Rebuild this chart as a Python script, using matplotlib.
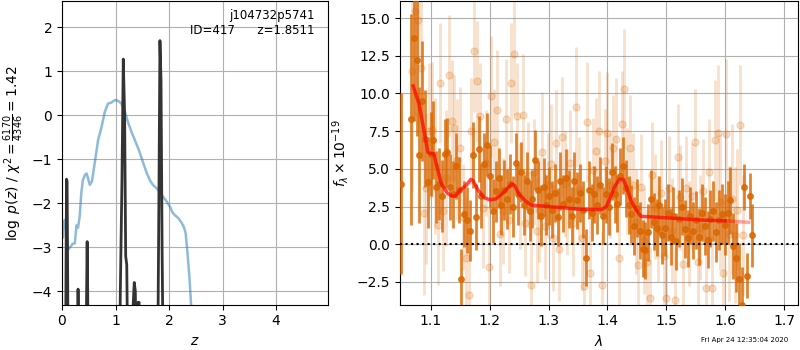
import numpy as np
import matplotlib
matplotlib.use("Agg")
import matplotlib.pyplot as plt

# ---------------- left panel: redshift PDF ----------------
z_chi = [0.02, 0.03, 0.05, 0.08, 0.11, 0.15, 0.20, 0.24, 0.27, 0.30, 0.33, 0.36, 0.39,
         0.43, 0.46, 0.49, 0.52, 0.56, 0.61, 0.675, 0.74, 0.80, 0.86, 0.92, 0.99,
         1.05, 1.11, 1.17, 1.24, 1.30, 1.36, 1.44, 1.52, 1.58, 1.64, 1.70, 1.77,
         1.83, 1.89, 1.95, 2.02, 2.06, 2.11, 2.17, 2.24, 2.28, 2.31, 2.34, 2.38, 2.41, 2.43]
logchi = [-2.77, -2.55, -2.38, -2.6, -3.06, -3.0, -2.92, -2.91, -2.5, -2.55, -2.3, -1.77, -1.47,
          -1.35, -1.32, -1.45, -1.58, -1.5, -1.09, -0.56, -0.26, 0.08, 0.27, 0.29, 0.35,
          0.33, 0.27, 0.1, -0.18, -0.38, -0.56, -0.8, -1.09, -1.3, -1.47, -1.58, -1.66,
          -1.75, -1.85, -1.95, -2.08, -2.2, -2.27, -2.33, -2.45, -2.55, -2.68, -3.06, -3.67, -4.27, -4.6]

z_pz = [0.06, 0.075, 0.085, 0.095, 0.105, 0.12, 0.27, 0.29, 0.30, 0.31, 0.33,
        0.44, 0.46, 0.47, 0.48, 0.50, 1.06, 1.09, 1.12, 1.145, 1.17, 1.19, 1.21, 1.24,
        1.30, 1.33, 1.35, 1.37, 1.40, 1.42, 1.44, 1.46, 1.78, 1.81, 1.83, 1.85, 1.87, 1.90]
logpz = [-7, -3.5, -1.45, -1.5, -3.5, -7, -7, -4.6, -3.95, -4.5, -7,
         -7, -4.0, -2.87, -4.0, -7, -7, -4.0, -1.5, 1.28, 0.0, -3.2, -3.4, -7,
         -7, -4.3, -3.8, -4.0, -7, -4.25, -4.25, -7, -7, -2.0, 1.7, 0.8, -3.0, -7]

# ---------------- right panel: spectrum ----------------
lam_dark = [1.0485,
    1.066, 1.071, 1.076, 1.080, 1.085, 1.090, 1.095, 1.100, 1.104, 1.109,
    1.114, 1.119, 1.124, 1.128, 1.133, 1.138, 1.143, 1.148, 1.152, 1.157,
    1.162, 1.167, 1.172, 1.176, 1.181, 1.186, 1.191, 1.196, 1.200, 1.205,
    1.210, 1.215, 1.220, 1.224, 1.229, 1.234, 1.239, 1.244, 1.248, 1.253,
    1.258, 1.263, 1.268, 1.272, 1.277, 1.282, 1.287, 1.292, 1.296, 1.301,
    1.306, 1.311, 1.316, 1.320, 1.325, 1.330, 1.335, 1.340, 1.344, 1.349,
    1.354, 1.359, 1.364, 1.368, 1.373, 1.378, 1.383, 1.388, 1.392, 1.397,
    1.402, 1.407, 1.412, 1.416, 1.421, 1.426, 1.431, 1.436, 1.440, 1.445,
    1.450, 1.455, 1.460, 1.464, 1.469, 1.474, 1.479, 1.484, 1.488, 1.493,
    1.498, 1.503, 1.508, 1.512, 1.517, 1.522, 1.527, 1.532, 1.536, 1.541,
    1.546, 1.551, 1.556, 1.560, 1.565, 1.570, 1.575, 1.580, 1.584, 1.589,
    1.594, 1.599, 1.604, 1.608, 1.613, 1.618, 1.623, 1.628, 1.632, 1.637,
    1.642, 1.646]
flux_dark = [4.0,
    8.3, 13.7, 12.2, 5.9, 9.5, 7.0, 4.1, 6.0, 6.9, 3.8,
    4.0, 3.2, 6.0, 6.1, 3.8, 3.3, 5.2, 3.6, -2.3, 2.0,
    1.6, 0.9, 5.9, 1.8, 6.3, 3.2, 5.3, 6.6, 4.5, 2.2,
    3.5, 4.4, 2.6, 3.6, 3.0, 4.0, 2.5, 5.4, 3.3, 4.8,
    2.6, 4.2, 2.2, 3.0, 5.6, 3.6, 1.9, 3.8, 2.6, 3.2,
    2.3, 3.4, 1.8, 4.2, 2.7, 4.4, 3.0, 1.9, 4.2, 2.9,
    3.4, 2.3, -0.9, 3.6, 2.1, 3.3, 2.6, 3.9, 1.9, 3.3,
    2.5, 4.8, 3.3, 2.7, 4.5, 5.2, 3.7, 2.6, 2.0, 1.2,
    2.4, 0.9, -0.3, -0.4, 0.8, 3.0, 1.5, 1.1, 2.6, 0.6,
    1.1, 2.1, 0.5, 1.9, 0.2, 1.7, 2.5, 1.0, 0.4, 1.9,
    0.9, 1.6, 0.5, 2.1, 1.2, 0.3, 1.7, 2.2, 0.8, 1.6,
    2.0, 1.3, 2.1, 2.9, -0.1, -0.9, -2.3, -4.0, 3.8, -2.1,
    3.2, 0.6]
err_dark = [6.0,
    7.0, 5.5, 5.0, 4.5, 4.0, 3.2, 3.0, 2.8, 2.6, 2.4,
    2.4, 2.4, 2.3, 2.3, 2.2, 2.2, 2.2, 2.2, 2.0, 2.2,
    2.2, 2.0, 2.2, 2.2, 2.2, 2.1, 2.1, 2.1, 2.1, 2.1,
    2.0, 2.0, 2.0, 2.0, 2.0, 2.0, 2.0, 2.0, 2.0, 2.0,
    2.0, 1.9, 2.0, 1.9, 2.0, 1.9, 2.0, 1.9, 2.0, 1.9,
    1.9, 1.9, 1.9, 1.9, 1.9, 1.9, 1.9, 1.9, 1.9, 1.9,
    1.9, 1.9, 1.9, 1.9, 1.9, 1.9, 1.9, 1.9, 1.9, 1.9,
    1.9, 1.9, 1.9, 1.9, 1.9, 1.9, 1.9, 1.9, 1.9, 1.9,
    1.9, 1.9, 1.9, 1.9, 1.9, 1.9, 1.9, 1.9, 1.9, 1.9,
    1.9, 1.9, 1.9, 1.9, 1.9, 1.9, 1.9, 1.9, 1.9, 1.9,
    1.9, 1.9, 1.9, 1.9, 1.9, 1.9, 1.9, 2.0, 2.0, 2.0,
    2.0, 2.0, 2.1, 2.2, 2.2, 2.3, 2.4, 2.5, 1.5, 1.5,
    1.5, 2.1]

lam_light = [
    1.068, 1.073, 1.078, 1.083, 1.088, 1.092, 1.097, 1.102, 1.107, 1.112,
    1.116, 1.121, 1.126, 1.131, 1.136, 1.140, 1.145, 1.150, 1.155, 1.160,
    1.164, 1.169, 1.174, 1.179, 1.184, 1.188, 1.193, 1.198, 1.203, 1.208,
    1.212, 1.217, 1.222, 1.227, 1.232, 1.236, 1.241, 1.246, 1.251, 1.256,
    1.260, 1.265, 1.270, 1.275, 1.280, 1.284, 1.289, 1.294, 1.299, 1.304,
    1.308, 1.313, 1.318, 1.323, 1.328, 1.332, 1.337, 1.342, 1.347, 1.352,
    1.356, 1.361, 1.366, 1.371, 1.376, 1.380, 1.385, 1.390, 1.395, 1.400,
    1.404, 1.409, 1.414, 1.419, 1.424, 1.428, 1.433, 1.438, 1.443, 1.448,
    1.452, 1.457, 1.462, 1.467, 1.472, 1.476, 1.481, 1.486, 1.491, 1.496,
    1.500, 1.505, 1.510, 1.515, 1.520, 1.524, 1.529, 1.534, 1.539, 1.544,
    1.548, 1.553, 1.558, 1.563, 1.568, 1.572, 1.577, 1.582, 1.587, 1.592,
    1.596, 1.601, 1.606, 1.611, 1.616, 1.620, 1.625, 1.630]
flux_light = [
    11.5, 15.5, 14.9, 11.7, 2.1, 3.7, 7.5, 7.6, 5.2, 1.3,
    10.7, 2.2, 4.4, 11.2, 8.2, 7.7, 5.6, 6.4, 1.8, -0.9,
    -3.4, 7.5, 12.8, 10.8, 8.5, 2.4, 5.4, -1.5, 9.8, 6.8,
    8.9, 0.7, 2.2, 8.3, 1.6, 10.7, 12.6, 8.5, 3.2, 8.6,
    1.4, 4.6, -2.7, 4.8, 0.9, 2.3, 6.1, 1.2, 3.9, 5.3,
    0.4, 6.7, -0.3, 7.1, 4.0, 2.8, 5.4, 1.4, 9.1, 3.6,
    0.4, -2.8, 8.1, -1.9, 4.9, 6.2, 7.5, -2.7, 5.5, 7.4,
    3.9, 6.4, 7.0, -0.9, 8.0, 10.3, 4.2, 6.4, 3.9, 1.5,
    -1.4, 3.8, 0.2, -1.2, -3.6, 4.6, 2.5, 1.0, 3.4, -0.8,
    -3.6, 3.7, 0.9, -3.7, 5.8, 3.1, -1.3, 3.7, 0.7, 3.2,
    6.8, -1.2, 1.1, 3.5, -2.9, 4.8, -2.9, 6.9, 7.4, 2.8,
    -1.9, 7.3, 0.7, 3.0, 0.6, 2.3, 7.9, 0.6]
err_light = [
    8.0, 7.0, 7.0, 6.0, 5.5, 5.0, 4.5, 4.5, 4.5, 4.0,
    4.0, 4.0, 4.5, 4.0, 4.0, 3.5, 4.0, 4.0, 3.5, 4.0,
    4.0, 3.5, 4.0, 4.0, 3.5, 4.0, 3.5, 4.0, 4.0, 3.5,
    4.0, 3.5, 3.5, 4.0, 3.5, 4.0, 4.0, 3.5, 3.5, 4.0,
    3.5, 3.5, 4.0, 3.5, 3.5, 3.5, 4.0, 3.5, 3.5, 4.0,
    3.5, 3.5, 3.5, 4.0, 3.5, 3.5, 3.5, 3.5, 4.0, 3.5,
    3.5, 3.5, 4.0, 3.5, 3.5, 3.5, 4.0, 3.5, 3.5, 4.0,
    3.5, 3.5, 4.0, 3.5, 3.5, 4.0, 3.5, 3.5, 3.5, 3.5,
    3.5, 3.5, 3.5, 3.5, 3.5, 3.5, 3.5, 3.5, 3.5, 3.5,
    3.5, 3.5, 3.5, 3.5, 3.5, 3.5, 3.5, 3.5, 3.5, 3.5,
    3.5, 3.5, 3.5, 3.5, 3.5, 3.5, 3.5, 4.0, 4.5, 4.5,
    4.0, 5.0, 4.5, 5.0, 4.5, 4.0, 4.0, 4.0]

lam_model = [1.070, 1.080, 1.088, 1.095, 1.100, 1.105, 1.110, 1.118, 1.128, 1.135, 1.142,
             1.150, 1.160, 1.168, 1.172, 1.180, 1.190, 1.200, 1.210, 1.220, 1.230,
             1.238, 1.242, 1.250, 1.260, 1.270, 1.300, 1.330, 1.360, 1.390, 1.398,
             1.405, 1.412, 1.420, 1.427, 1.432, 1.440, 1.450, 1.457, 1.480, 1.520,
             1.560, 1.600]
flux_model = [10.5, 9.3, 7.6, 6.1, 6.0, 6.0, 5.2, 4.0, 3.4, 3.2, 3.2,
              3.6, 3.9, 4.3, 4.2, 3.6, 3.1, 2.95, 3.0, 3.3, 3.7,
              4.0, 3.9, 3.3, 2.9, 2.6, 2.5, 2.4, 2.3, 2.3, 2.5,
              3.1, 3.8, 4.3, 4.3, 3.8, 2.9, 2.2, 1.85, 1.8, 1.7,
              1.6, 1.55]
lam_model_end = [1.600, 1.640]
flux_model_end = [1.55, 1.45]

fig = plt.figure(figsize=(8, 3.5), dpi=100)

ax1 = fig.add_axes([0.0775, 0.13, 0.3325, 0.867])
ax1.plot(z_chi, logchi, color='tab:blue', alpha=0.5, lw=1.8)
ax1.plot(z_pz, logpz, color='0.2', lw=2)
ax1.set_xlim(0, 4.97)
ax1.set_ylim(-4.3, 2.6)
ax1.set_xticks([0, 1, 2, 3, 4])
ax1.set_yticks([-4, -3, -2, -1, 0, 1, 2])
ax1.grid(True)
ax1.set_xlabel(r'$z$')
ax1.set_ylabel(r'$\log\ p(z)$ / $\chi^2=\frac{6170}{4346}=1.42$')
ax1.text(0.95, 0.975, 'j104732p5741\nID=417      z=1.8511', transform=ax1.transAxes,
         ha='right', va='top', fontsize=8.5)

ax2 = fig.add_axes([0.5, 0.13, 0.4975, 0.867])
col = (0.85, 0.4, 0.0)
ax2.errorbar(lam_light, flux_light, yerr=err_light, fmt='o', color=col, alpha=0.2,
             ms=5, elinewidth=2, capsize=0, zorder=2)
ax2.errorbar(lam_dark, flux_dark, yerr=err_dark, fmt='o', color=col, alpha=0.8,
             ms=4, elinewidth=2, capsize=0, zorder=3)
ax2.plot(lam_model, flux_model, color='red', alpha=0.7, lw=2.5, zorder=4)
ax2.plot(lam_model_end, flux_model_end, color='red', alpha=0.35, lw=2.5, zorder=4)
ax2.axhline(0, color='k', ls=':', lw=1.5, zorder=5)
ax2.set_xlim(1.0476, 1.7237)
ax2.set_ylim(-4.0, 16.13)
ax2.grid(True)
ax2.set_xlabel(r'$\lambda$')
ax2.set_ylabel(r'$f_\lambda\times10^{-19}$')

fig.text(0.985, 0.02, 'Fri Apr 24 12:35:04 2020', ha='right', va='bottom', fontsize=5)

fig.savefig('out.png', dpi=100)
